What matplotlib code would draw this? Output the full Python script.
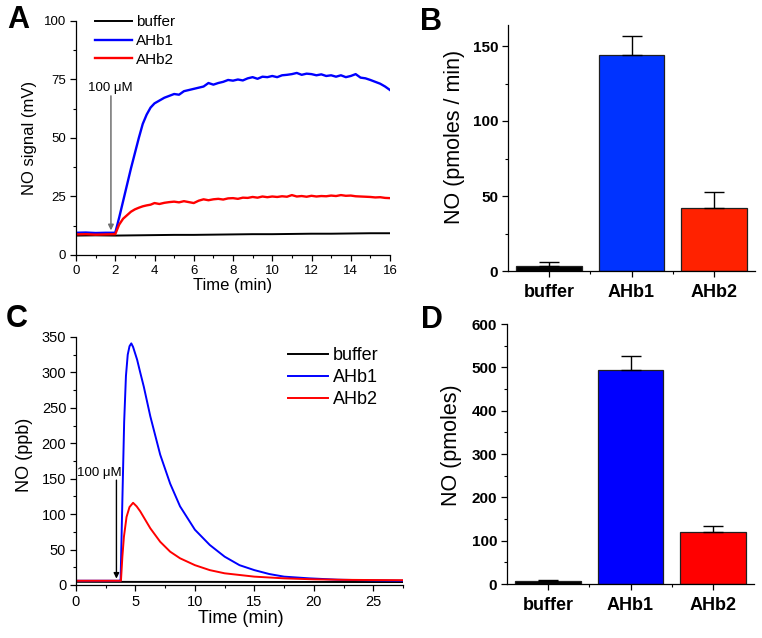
import matplotlib

matplotlib.use("Agg")
import matplotlib.pyplot as plt
from matplotlib.ticker import MultipleLocator, FixedLocator

plt.rcParams["font.family"] = ["Liberation Sans", "DejaVu Sans"]

# ---- panel A: NO electrode signal ----
t_a = [0, 0.5, 1, 1.5, 2.0, 2.2, 2.4, 2.6, 2.8, 3.0, 3.2, 3.4, 3.6, 3.8, 4.0,
       4.25, 4.5, 4.75, 5.0, 5.25, 5.5, 5.75, 6.0, 6.25, 6.5, 6.75, 7.0, 7.25,
       7.5, 7.75, 8.0, 8.25, 8.5, 8.75, 9.0, 9.25, 9.5, 9.75, 10.0, 10.25, 10.5,
       10.75, 11.0, 11.25, 11.5, 11.75, 12.0, 12.25, 12.5, 12.75, 13.0, 13.25,
       13.5, 13.75, 14.0, 14.25, 14.5, 14.75, 15.0, 15.25, 15.5, 15.75, 16.0]
ahb1_a = [9.5, 9.6, 9.4, 9.5, 9.5, 16, 23, 30, 37, 43.5, 50, 56, 60, 63, 64.8,
          66, 67.2, 68, 68.8, 68.5, 70, 70.5, 71, 71.5, 72, 73.5, 72.8, 73.5,
          74, 74.8, 74.5, 75, 74.6, 75.5, 76, 75.3, 76.2, 76, 76.5, 76, 76.8,
          77, 77.3, 77.8, 77, 77.5, 77.3, 76.8, 77.2, 76.5, 76.8, 76.2,
          76.8, 76, 76.5, 77.3, 75.8, 75.5, 74.8, 74, 73.2, 72, 70.5]
ahb2_a = [8.8, 8.9, 8.7, 8.8, 8.9, 13, 15.5, 17, 18.5, 19.5, 20.2, 20.8, 21.2, 21.5, 22.2,
          21.8, 22.3, 22.6, 22.8, 22.5, 23, 22.6, 22.2, 23.2, 23.8, 23.4, 23.8, 24,
          23.7, 24.2, 24.3, 24, 24.5, 24.4, 24.8, 24.5, 25, 24.7, 25, 24.8, 25.1,
          24.9, 25.6, 25, 25.2, 24.9, 25.3, 25, 25.2, 25.1, 25.4, 25.2,
          25.6, 25.3, 25.4, 25.1, 25.0, 24.9, 24.8, 24.6, 24.7, 24.4, 24.3]
t_buf_a = [0, 1, 2, 3, 4, 5, 6, 7, 8, 9, 10, 11, 12, 13, 14, 15, 16]
buf_a = [8.3, 8.4, 8.3, 8.4, 8.5, 8.6, 8.6, 8.7, 8.8, 8.9, 8.9, 9.0, 9.1, 9.1, 9.2, 9.3, 9.3]

# ---- panel C: chemiluminescence NO ----
t_c1 = [0, 3.7, 3.75, 3.9, 4.05, 4.2, 4.35, 4.5, 4.65, 4.8, 5.14, 5.4, 5.7, 6.25,
        7.08, 7.92, 8.75, 10, 11.25, 12.5, 13.75, 15, 16.25, 17.5, 19.6, 22, 25, 27.5]
ahb1_c = [6, 6, 6, 120, 230, 295, 325, 337, 341, 336, 318, 300, 280, 238,
          184, 143, 111, 78, 56.5, 40, 28, 21, 15.5, 11.8, 9.4, 7.5, 6.5, 6]
t_c2 = [0, 3.78, 3.9, 4.03, 4.25, 4.5, 4.8, 5.1, 5.4, 6.25, 7.08, 7.92, 8.75,
        10, 11.25, 12.5, 15, 17.5, 20, 22.5, 25, 27.5]
ahb2_c = [6, 6, 40, 68, 96, 110, 116, 111, 104, 80, 61, 47, 37.7,
          28, 21, 16.5, 11.8, 9.4, 8, 7.3, 7, 6.8]
t_buf_c = [0, 5, 10, 15, 20, 25, 27.5]
buf_c = [4.5, 4.4, 4.4, 4.3, 4.3, 4.2, 4.2]

# ---- bar panels ----
groups = ["buffer", "AHb1", "AHb2"]
rate_b = [3.5, 144, 42]
rate_b_err = [2.5, 13, 11]
total_d = [6, 495, 121]
total_d_err = [3, 31, 12]

BLACK, BLUE, RED = "#000000", "#0000ff", "#ff0000"

fig = plt.figure(figsize=(7.62, 6.38), dpi=100)
W, H = 762, 638


def add_axes(left, top, right, bottom):
    return fig.add_axes([left / W, 1 - bottom / H, (right - left) / W, (bottom - top) / H])


def style(ax):
    for side in ("top", "right"):
        ax.spines[side].set_visible(False)
    for side in ("left", "bottom"):
        ax.spines[side].set_linewidth(0.9)
    ax.tick_params(which="major", direction="out", length=4.5, width=0.9)
    ax.tick_params(which="minor", direction="out", length=2.5, width=0.8)


# A
ax = add_axes(76, 21, 390, 255)
style(ax)
ax.plot(t_buf_a, buf_a, color=BLACK, lw=1.4, label="buffer")
ax.plot(t_a, ahb1_a, color=BLUE, lw=1.7, label="AHb1")
ax.plot(t_a, ahb2_a, color=RED, lw=1.7, label="AHb2")
ax.set_xlim(0, 16)
ax.set_ylim(0, 100)
ax.xaxis.set_major_locator(MultipleLocator(2))
ax.xaxis.set_minor_locator(MultipleLocator(1))
ax.yaxis.set_major_locator(MultipleLocator(25))
ax.yaxis.set_minor_locator(MultipleLocator(12.5))
ax.tick_params(labelsize=9.5, pad=2.5)
ax.set_xlabel("Time (min)", fontsize=12)
ax.set_ylabel("NO signal (mV)", fontsize=12)
ax.xaxis.set_label_coords(0.5, -0.098)
ax.yaxis.set_label_coords(-0.124, 0.5)
ax.annotate("", xy=(1.78, 10.5), xytext=(1.78, 68),
            arrowprops=dict(arrowstyle="-|>", color="#707070", lw=1.1,
                            mutation_scale=8, shrinkA=0, shrinkB=0))
ax.text(1.75, 69, "100 μM", fontsize=9.5, ha="center", va="bottom")
ax.legend(loc="upper left", bbox_to_anchor=(0.06, 1.024), frameon=False,
          fontsize=11, handlelength=2.4, handletextpad=0.3, labelspacing=0.3,
          borderpad=0, borderaxespad=0)

# C
ax = add_axes(76, 337, 403, 585)
style(ax)
ax.plot(t_buf_c, buf_c, color=BLACK, lw=1.4, label="buffer")
ax.plot(t_c1, ahb1_c, color=BLUE, lw=1.4, label="AHb1")
ax.plot(t_c2, ahb2_c, color=RED, lw=1.4, label="AHb2")
ax.set_xlim(0, 27.5)
ax.set_ylim(0, 350)
ax.xaxis.set_major_locator(MultipleLocator(5))
ax.xaxis.set_minor_locator(MultipleLocator(2.5))
ax.yaxis.set_major_locator(MultipleLocator(50))
ax.yaxis.set_minor_locator(MultipleLocator(25))
ax.tick_params(labelsize=10.5, pad=2.5)
ax.set_xlabel("Time (min)", fontsize=13)
ax.set_ylabel("NO (ppb)", fontsize=13)
ax.xaxis.set_label_coords(0.505, -0.1)
ax.yaxis.set_label_coords(-0.131, 0.524)
ax.annotate("", xy=(3.4, 9), xytext=(3.4, 148),
            arrowprops=dict(arrowstyle="-|>", color="black", lw=1.0,
                            mutation_scale=8, shrinkA=0, shrinkB=0))
ax.text(2.0, 150, "100 μM", fontsize=9.5, ha="center", va="bottom")
ax.legend(loc="upper left", bbox_to_anchor=(0.648, 0.959), frameon=False,
          fontsize=13, handlelength=2.2, handletextpad=0.3, labelspacing=0.28,
          borderpad=0, borderaxespad=0)


def bar_panel(box, values, errs, colors, ylim, major, minor, ylabel, label_xy):
    ax = add_axes(*box)
    style(ax)
    x = [1, 2, 3]
    ax.bar(x, values, width=0.8, color=colors, edgecolor="#202020", linewidth=0.9,
           yerr=[[0] * len(errs), errs], capsize=7.5,
           error_kw=dict(ecolor="black", elinewidth=1.0, capthick=1.0))
    ax.set_xlim(0.5, 3.5)
    ax.set_ylim(*ylim)
    ax.xaxis.set_major_locator(FixedLocator(x))
    ax.xaxis.set_minor_locator(FixedLocator([1.5, 2.5]))
    ax.set_xticklabels(groups, fontsize=13, fontweight="bold")
    ax.yaxis.set_major_locator(MultipleLocator(major))
    ax.yaxis.set_minor_locator(MultipleLocator(minor))
    for lab in ax.get_yticklabels():
        lab.set_fontsize(11)
        lab.set_fontweight("bold")
    ax.tick_params(axis="x", pad=4.5)
    ax.tick_params(axis="y", pad=2.5)
    ax.set_ylabel(ylabel, fontsize=15.5)
    ax.yaxis.set_label_coords(*label_xy)
    return ax


bar_panel((508, 25, 755, 271), rate_b, rate_b_err, [BLACK, "#0033ff", "#ff2200"],
          (0, 164), 50, 25, "NO (pmoles / min)", (-0.174, 0.545))
bar_panel((507, 324, 754, 584), total_d, total_d_err, [BLACK, BLUE, RED],
          (0, 600), 100, 50, "NO (pmoles)", (-0.182, 0.535))

# panel letters
for letter, x, y in [("A", 7, 28), ("B", 420, 30), ("C", 6, 327), ("D", 421, 328)]:
    fig.text(x / W, 1 - y / H, letter, fontsize=22, fontweight="bold",
             ha="left", va="baseline")

fig.savefig("out.png", dpi=100)
